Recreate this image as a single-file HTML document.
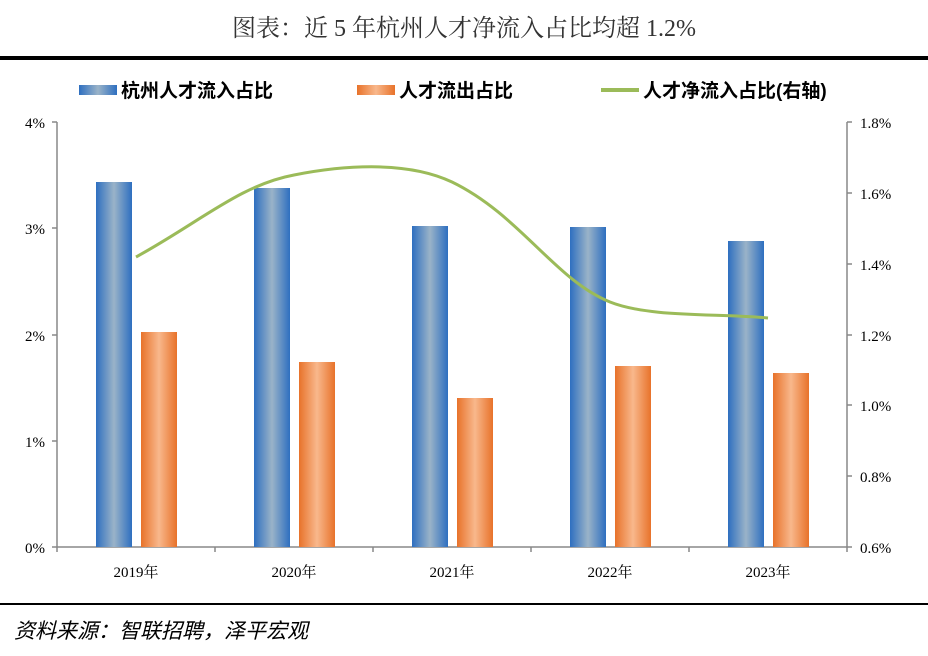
<!DOCTYPE html><html><head><meta charset="utf-8"><style>body{margin:0;background:#fff}</style></head><body>
<svg width="928" height="651" xmlns="http://www.w3.org/2000/svg" font-family="Liberation Serif, Noto Serif CJK SC, serif">
<defs>
<linearGradient id="b" x1="0" x2="1"><stop offset="0" stop-color="#2e6fc0"/><stop offset="0.5" stop-color="#9ab3c8"/><stop offset="1" stop-color="#2e6fc0"/></linearGradient>
<linearGradient id="o" x1="0" x2="1"><stop offset="0" stop-color="#e8722a"/><stop offset="0.5" stop-color="#f8b88c"/><stop offset="1" stop-color="#e8722a"/></linearGradient>
</defs>
<text x="464" y="36" text-anchor="middle" font-size="24" fill="#333" font-family="Liberation Serif, Noto Serif CJK SC, serif">图表：近 5 年杭州人才净流入占比均超 1.2%</text>
<rect x="0" y="56" width="928" height="4" fill="#000"/>
<g font-size="19" font-weight="bold" font-family="Liberation Sans, Noto Sans CJK SC, sans-serif" fill="#000">
<rect x="79" y="85" width="38" height="10" fill="url(#b)"/><text x="121" y="97">杭州人才流入占比</text>
<rect x="357" y="85" width="38" height="10" fill="url(#o)"/><text x="399" y="97">人才流出占比</text>
<rect x="601" y="88" width="38" height="4" fill="#9bbb59"/><text x="643" y="97">人才净流入占比(右轴)</text>
</g>
<g stroke="#888" stroke-width="1.5" fill="none">
<path d="M57 122V547H847V122"/>
<path d="M52 122H57M52 228H57M52 335H57M52 441H57M52 547H57"/>
<path d="M847 122H852M847 193H852M847 264H852M847 335H852M847 405H852M847 476H852M847 547H852"/>
<path d="M215 547v5M373 547v5M531 547v5M689 547v5M847 547v5M57 547v5"/>
</g>
<g font-size="15" fill="#000">
<text x="45" y="128" text-anchor="end">4%</text><text x="45" y="234" text-anchor="end">3%</text><text x="45" y="341" text-anchor="end">2%</text><text x="45" y="447" text-anchor="end">1%</text><text x="45" y="553" text-anchor="end">0%</text>
<g text-anchor="start"><text x="860" y="128">1.8%</text><text x="860" y="199">1.6%</text><text x="860" y="270">1.4%</text><text x="860" y="341">1.2%</text><text x="860" y="411">1.0%</text><text x="860" y="482">0.8%</text><text x="860" y="553">0.6%</text></g>
<g text-anchor="middle"><text x="136" y="577">2019年</text><text x="294" y="577">2020年</text><text x="452" y="577">2021年</text><text x="610" y="577">2022年</text><text x="768" y="577">2023年</text></g>
</g>
<g>
<rect x="96" y="182" width="36" height="365" fill="url(#b)"/><rect x="141" y="332" width="36" height="215" fill="url(#o)"/>
<rect x="254" y="188" width="36" height="359" fill="url(#b)"/><rect x="299" y="362" width="36" height="185" fill="url(#o)"/>
<rect x="412" y="226" width="36" height="321" fill="url(#b)"/><rect x="457" y="398" width="36" height="149" fill="url(#o)"/>
<rect x="570" y="227" width="36" height="320" fill="url(#b)"/><rect x="615" y="366" width="36" height="181" fill="url(#o)"/>
<rect x="728" y="241" width="36" height="306" fill="url(#b)"/><rect x="773" y="373" width="36" height="174" fill="url(#o)"/>
</g>
<path d="M136 257C200 222 240 185 294 175C350 164 410 162 452 182C520 215 555 280 610 302C650 318 720 313 768 318" stroke="#9bbb59" stroke-width="3" fill="none"/>
<rect x="0" y="603" width="928" height="2" fill="#000"/>
<text x="14" y="638" font-size="21" font-style="italic" fill="#000" font-family="Liberation Sans, Noto Sans CJK SC, sans-serif">资料来源：智联招聘，泽平宏观</text>
</svg></body></html>
